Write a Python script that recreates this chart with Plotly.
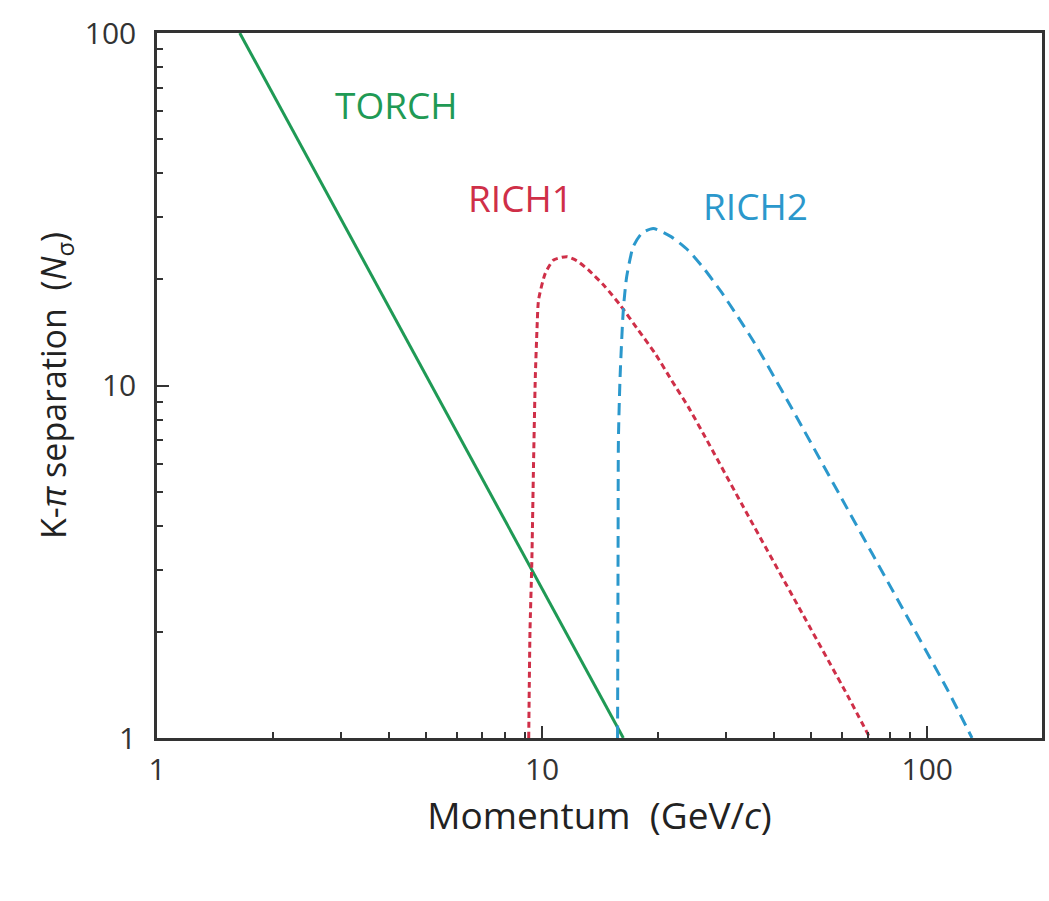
import plotly.graph_objects as go

# TORCH: straight power-law line
torch_p = [1.64, 16.25]
torch_n = [100, 1]

# RICH1 (dotted)
rich1_p = [9.23, 9.3, 9.4, 9.5, 9.6, 9.7, 9.79, 10.19, 10.71, 11.59, 12.3, 13.19,
           14.57, 15.94, 17.77, 19.64, 21.67, 23.94, 26.18, 34.2, 46.1, 62.1, 71.0]
rich1_n = [1.0, 2.0, 3.1, 6.0, 10.5, 14.5, 17.5, 20.8, 22.7, 23.2, 22.6, 21.27,
           19.07, 16.92, 14.37, 12.34, 10.36, 8.71, 7.32, 4.29, 2.38, 1.32, 1.0]

# RICH2 (dashed)
rich2_p = [15.7, 15.75, 15.78, 15.94, 16.25, 16.58, 17.25, 18.13, 19.43, 21.67,
           23.93, 26.43, 29.19, 32.2, 35.6, 39.3, 44.3, 62.1, 83.6, 112.6, 130.7]
rich2_n = [1.0, 3.5, 7.0, 10.6, 16.4, 20.36, 24.8, 27.0, 27.9, 26.4,
           24.2, 21.33, 18.42, 15.69, 13.2, 10.96, 8.69, 4.46, 2.48, 1.377, 1.0]

x_ticks = [1, 10, 100]
y_ticks = [1, 10, 100]
x_minor = [2, 3, 4, 5, 6, 7, 8, 9, 20, 30, 40, 50, 60, 70, 80, 90]
y_minor = [2, 3, 4, 5, 6, 7, 8, 9, 20, 30, 40, 50, 60, 70, 80, 90]

green = "#1f9a55"
red = "#cf2f48"
blue = "#2b98cc"
FONT = "Open Sans, sans-serif"

fig = go.Figure()
fig.add_trace(go.Scatter(x=torch_p, y=torch_n, mode="lines",
                         line=dict(color=green, width=3), showlegend=False))
fig.add_trace(go.Scatter(x=rich1_p, y=rich1_n, mode="lines",
                         line=dict(color=red, width=3, dash="6px,4px", shape="spline",
                                   smoothing=0.6), showlegend=False))
fig.add_trace(go.Scatter(x=rich2_p, y=rich2_n, mode="lines",
                         line=dict(color=blue, width=3, dash="12px,7px", shape="spline",
                                   smoothing=0.6), showlegend=False))

fig.add_annotation(text="TORCH", xref="paper", yref="paper", x=0.271, y=0.898,
                   xanchor="center", yanchor="middle",
                   showarrow=False, font=dict(color=green, size=37, family=FONT))
fig.add_annotation(text="RICH1", xref="paper", yref="paper", x=0.411, y=0.766,
                   xanchor="center", yanchor="middle",
                   showarrow=False, font=dict(color=red, size=37, family=FONT))
fig.add_annotation(text="RICH2", xref="paper", yref="paper", x=0.676, y=0.756,
                   xanchor="center", yanchor="middle",
                   showarrow=False, font=dict(color=blue, size=37, family=FONT))

fig.update_layout(
    width=1049, height=901,
    margin=dict(l=157, r=4, t=33, b=163),
    paper_bgcolor="white", plot_bgcolor="white",
    font=dict(family=FONT, color="#333333"),
)
fig.update_xaxes(
    type="log", range=[0, 2.298],
    tickmode="array", tickvals=x_ticks, ticktext=[str(v) for v in x_ticks],
    ticks="inside", ticklen=12, tickwidth=2, tickcolor="#333",
    ticklabelstandoff=3,
    minor=dict(tickmode="array", tickvals=x_minor, ticks="inside", ticklen=6,
               tickwidth=1.5, tickcolor="#333", showgrid=False),
    showline=True, linecolor="#333", linewidth=2.5, mirror=True,
    showgrid=False, zeroline=False,
    tickfont=dict(size=30, family=FONT, color="#333"),
    title=dict(text="Momentum  (GeV/<i>c</i>)", standoff=0,
               font=dict(size=37, family=FONT, color="#222")),
)
fig.update_yaxes(
    type="log", range=[0, 2],
    tickmode="array", tickvals=y_ticks, ticktext=[str(v) for v in y_ticks],
    ticks="inside", ticklen=12, tickwidth=2, tickcolor="#333",
    ticklabelstandoff=12,
    minor=dict(tickmode="array", tickvals=y_minor, ticks="inside", ticklen=6,
               tickwidth=1.5, tickcolor="#333", showgrid=False),
    showline=True, linecolor="#333", linewidth=2.5, mirror=True,
    showgrid=False, zeroline=False,
    tickfont=dict(size=30, family=FONT, color="#333"),
    title=dict(text="K-<i>π</i> separation  (<i>N</i><sub>σ</sub>)", standoff=8,
               font=dict(size=34, family=FONT, color="#222")),
)

fig.write_html("out.html")
